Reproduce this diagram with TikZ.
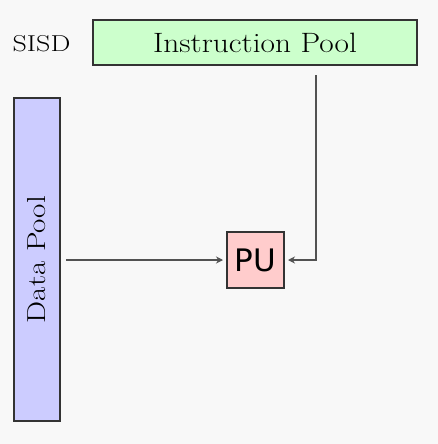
\documentclass[tikz,border=0pt]{standalone}
\usepackage{fontspec}
\usepackage{graphicx}
\newfontfamily\pusans{DejaVu Sans}
\usetikzlibrary{arrows.meta}
\definecolor{bg}{HTML}{F8F8F8}
\definecolor{ipool}{HTML}{CCFFCC}
\definecolor{dpool}{HTML}{CCCCFF}
\definecolor{pufill}{HTML}{FFCCCC}
\definecolor{edge}{HTML}{333333}
\tikzset{
  poolbox/.style={draw=edge, line width=1.8pt, inner sep=0pt, outer sep=0pt},
  conn/.style={draw=edge!85, line width=1.8pt, -{Stealth[length=7pt,width=7pt]}}
}
\begin{document}
\begin{tikzpicture}[x=1pt,y=-1pt]
\fill[bg] (0,0) rectangle (438,444);
\useasboundingbox (0,0) rectangle (438,444);
\node[anchor=center] (sisd) at (41.5,44) {\scalebox{1.22}[1]{\fontsize{23}{26}\selectfont SISD}};
\node[poolbox, fill=ipool, minimum width=324pt, minimum height=45pt] (ip) at (255,42.5) {\scalebox{1.12}[1]{\fontsize{28}{30}\selectfont Instruction Pool}};
\node[poolbox, fill=dpool, minimum width=46pt, minimum height=323pt] (dp) at (37,259.5) {};
\node[rotate=90] (dpl) at (dp.center) {\scalebox{1.2}[1]{\fontsize{26}{28}\selectfont Data Pool}};
\node[poolbox, fill=pufill, minimum width=57pt, minimum height=56pt] (pu) at (255.5,260) {\pusans\fontsize{31}{32}\selectfont PU};
\coordinate (istart) at (316,75);
\coordinate (dstart) at (66,260);
\draw[conn] (dstart) -- ([xshift=-4pt]pu.west);
\draw[conn] (istart) |- ([xshift=4pt]pu.east);
\end{tikzpicture}
\end{document}
